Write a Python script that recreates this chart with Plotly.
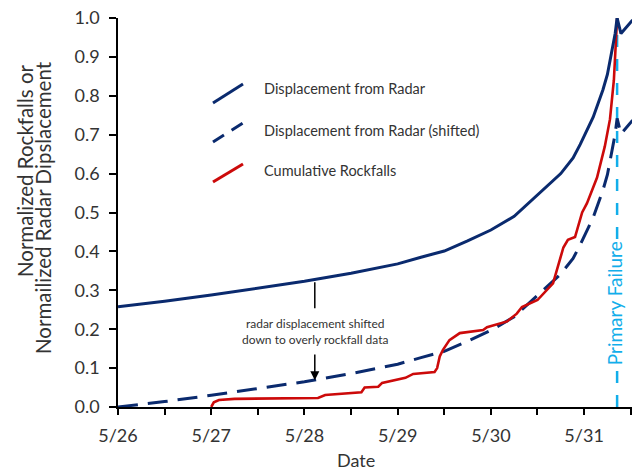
import pandas as pd
import plotly.graph_objects as go

YEAR = "2013"

# Normalized radar displacement (time, value)
radar_times = [
    "05-26 00:00", "05-26 12:00", "05-27 00:00", "05-27 12:00", "05-28 00:00",
    "05-28 12:00", "05-29 00:00", "05-29 06:00", "05-29 12:00", "05-29 18:00",
    "05-30 00:00", "05-30 06:00", "05-30 12:00", "05-30 18:00", "05-30 21:10",
    "05-30 23:00", "05-31 02:20", "05-31 04:50", "05-31 06:00", "05-31 06:40",
    "05-31 08:00", "05-31 08:30", "05-31 09:30", "05-31 12:30",
]
radar_vals = [
    0.258, 0.272, 0.288, 0.305, 0.323,
    0.344, 0.368, 0.385, 0.401, 0.427,
    0.455, 0.490, 0.545, 0.600, 0.640,
    0.675, 0.745, 0.815, 0.855, 0.890,
    0.960, 1.000, 0.960, 0.995,
]
# The radar curve moved down by this amount to lie over the rockfall data
radar_shift = 0.258

# Normalized cumulative rockfalls (time, value)
rock_times = [
    "05-27 00:00", "05-27 00:40", "05-27 02:00", "05-27 06:00", "05-28 03:30",
    "05-28 05:20", "05-28 14:40", "05-28 15:30", "05-28 19:00", "05-28 20:00",
    "05-29 02:00", "05-29 04:00", "05-29 09:30", "05-29 10:10", "05-29 10:50",
    "05-29 11:40", "05-29 13:20", "05-29 16:00", "05-29 22:00", "05-29 23:00",
    "05-30 04:10", "05-30 06:40", "05-30 08:00", "05-30 12:00", "05-30 16:00",
    "05-30 18:40", "05-30 19:50", "05-30 21:40", "05-30 23:30", "05-31 00:45",
    "05-31 03:20", "05-31 05:20", "05-31 06:40", "05-31 07:40", "05-31 08:30",
]
rock_vals = [
    0.000, 0.012, 0.018, 0.021, 0.023,
    0.031, 0.038, 0.050, 0.052, 0.062,
    0.075, 0.085, 0.090, 0.100, 0.130,
    0.147, 0.172, 0.190, 0.198, 0.205,
    0.220, 0.240, 0.257, 0.275, 0.318,
    0.410, 0.430, 0.437, 0.500, 0.524,
    0.590, 0.670, 0.740, 0.840, 1.000,
]

failure_time = "05-31 08:30"
x_start, x_end = "05-26 00:00", "05-31 12:20"

tick_times = ["05-26 00:00", "05-26 12:00", "05-27 00:00", "05-27 12:00",
              "05-28 00:00", "05-28 12:00", "05-29 00:00", "05-29 12:00",
              "05-30 00:00", "05-30 12:00", "05-31 00:00", "05-31 12:00"]
tick_labels = ["5/26", "", "5/27", "", "5/28", "", "5/29", "", "5/30", "", "5/31", ""]

legend_names = ["Displacement from Radar", "Displacement from Radar (shifted)",
                "Cumulative Rockfalls"]


def ts(s):
    return pd.Timestamp(f"{YEAR}-{s}")


NAVY = "#0A2A6E"
RED = "#CC0A0A"
SKY = "#12AEEA"
TEXT = "#333333"
FONT = "Lato"

rt = [ts(t) for t in radar_times]
fig = go.Figure()
fig.add_trace(go.Scatter(x=rt, y=[v - radar_shift for v in radar_vals], mode="lines",
                         line=dict(color=NAVY, width=3, dash="20px,10px"),
                         name=legend_names[1], showlegend=False))
fig.add_trace(go.Scatter(x=[ts(t) for t in rock_times], y=rock_vals, mode="lines",
                         line=dict(color=RED, width=2.6),
                         name=legend_names[2], showlegend=False))
fig.add_trace(go.Scatter(x=rt, y=radar_vals, mode="lines",
                         line=dict(color=NAVY, width=3),
                         name=legend_names[0], showlegend=False))

# Legend: diagonal line samples drawn on an overlay axis in plot-area fractions
leg_rows = [(0.7815, 0.8303, 0.820, "solid", NAVY),
            (0.6812, 0.7301, 0.712, "13px,9px", NAVY),
            (0.5784, 0.6247, 0.609, "solid", RED)]
for (y0, y1, yt, dash, col), name in zip(leg_rows, legend_names):
    fig.add_trace(go.Scatter(x=[0.1848, 0.2140, 0.2432], y=[y0, (y0 + y1) / 2, y1],
                             mode="lines", xaxis="x2", yaxis="y2", showlegend=False,
                             hoverinfo="skip", line=dict(color=col, width=3, dash=dash)))
    fig.add_annotation(xref="paper", yref="paper", x=0.2802, y=yt, text=name,
                       xanchor="left", yanchor="middle", showarrow=False,
                       font=dict(family=FONT, size=14.5, color=TEXT))

# Primary failure marker
fig.add_shape(type="line", xref="x", yref="y", x0=ts(failure_time), x1=ts(failure_time),
              y0=0, y1=1, line=dict(color=SKY, width=2.5, dash="12px,12px"), layer="below")
fig.add_annotation(x=ts(failure_time), y=0.267, xref="x", yref="y", text="Primary Failure",
                   textangle=-90, showarrow=False, bgcolor="white", xshift=-3,
                   font=dict(family=FONT, size=19, color=SKY))

# Explanation of the shifted curve
note_x = ts("05-28 02:40")
fig.add_shape(type="line", xref="x", yref="y", x0=note_x, x1=note_x, y0=0.321, y1=0.254,
              line=dict(color="black", width=1.5))
fig.add_annotation(x=note_x, y=0.194, xref="x", yref="y",
                   text="radar displacement shifted<br>down to overly rockfall data",
                   showarrow=False, font=dict(family=FONT, size=12, color=TEXT))
fig.add_annotation(x=note_x, y=0.069, xref="x", yref="y", ax=note_x, ay=0.139,
                   axref="x", ayref="y", text="", showarrow=True, arrowhead=2,
                   arrowsize=1.2, arrowwidth=1.5, arrowcolor="black")

# Axis titles
fig.add_annotation(xref="paper", yref="paper", x=0.463, y=-0.136, text="Date",
                   xanchor="center", yanchor="middle", showarrow=False,
                   font=dict(family=FONT, size=18, color=TEXT))
fig.add_annotation(xref="paper", yref="paper", x=-0.181, y=0.609,
                   text="Normalized Rockfalls or", textangle=-90,
                   xanchor="center", yanchor="middle", showarrow=False,
                   font=dict(family=FONT, size=20.5, color=TEXT))
fig.add_annotation(xref="paper", yref="paper", x=-0.146, y=0.514,
                   text="Normailized Radar Dipslacement", textangle=-90,
                   xanchor="center", yanchor="middle", showarrow=False,
                   font=dict(family=FONT, size=20.5, color=TEXT))

fig.update_layout(
    width=632, height=470, margin=dict(l=118, r=0, t=18, b=63),
    paper_bgcolor="white", plot_bgcolor="white",
    font=dict(family=FONT, size=18, color=TEXT),
    xaxis=dict(range=[ts(x_start), ts(x_end)], tickmode="array",
               tickvals=[ts(t) for t in tick_times], ticktext=tick_labels,
               ticks="outside", ticklen=6, tickwidth=1.5, tickcolor="black",
               showline=True, linecolor="black", linewidth=1.5, showgrid=False,
               zeroline=False, ticklabelstandoff=6),
    yaxis=dict(range=[0, 1], dtick=0.1, tickformat=".1f",
               ticks="outside", ticklen=7, tickwidth=1.5, tickcolor="black",
               showline=True, linecolor="black", linewidth=1.5, showgrid=False,
               zeroline=False, ticklabelstandoff=6),
    xaxis2=dict(overlaying="x", range=[0, 1], visible=False, fixedrange=True),
    yaxis2=dict(overlaying="y", range=[0, 1], visible=False, fixedrange=True),
)

fig.write_html("out.html")
